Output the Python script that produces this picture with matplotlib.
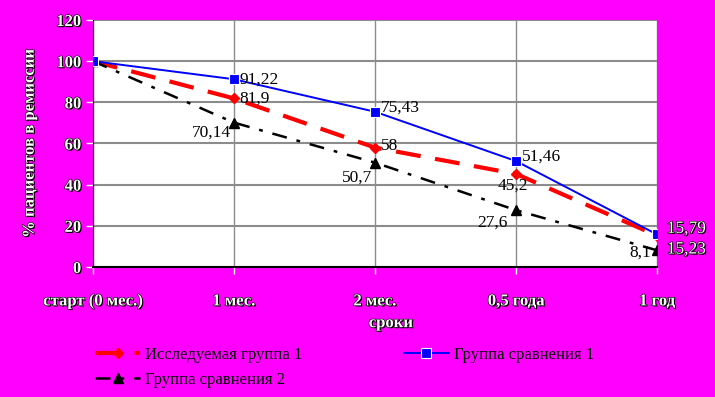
import matplotlib.pyplot as plt
import matplotlib.patheffects as pe

# Данные графика
periods = ["старт (0 мес.)", "1 мес.", "2 мес.", "0,5 года", "1 год"]
group1 = [100, 81.9, 58, 45.2, 15.23]      # Исследуемая группа 1
compare1 = [100, 91.22, 75.43, 51.46, 15.79]  # Группа сравнения 1
compare2 = [100, 70.14, 50.7, 27.6, 8.1]      # Группа сравнения 2

g1_labels = ["", "81,9", "58", "45,2", "15,23"]
c1_labels = ["", "91,22", "75,43", "51,46", "15,79"]
c2_labels = ["", "70,14", "50,7", "27,6", "8,1"]

plt.rcParams["font.family"] = ["Liberation Serif", "DejaVu Serif"]
magenta = "#ff00ff"
outline = [pe.SimplePatchShadow(offset=(0.8, -0.8), shadow_rgbFace="black", alpha=1),
           pe.withStroke(linewidth=0.9, foreground="black")]

fig = plt.figure(figsize=(7.15, 3.97), dpi=100, facecolor=magenta)
ax = fig.add_axes([0.130, 0.3275, 0.789, 0.6221])
ax.set_facecolor("white")

x = range(len(periods))

ax.plot(x, group1, color="red", lw=3, dashes=(6, 3.5), marker="D", ms=5.5,
        mfc="red", mec="red", label="Исследуемая группа 1", zorder=4)
ax.plot(x, compare2, color="black", lw=1.8, dashes=(6, 4, 1.5, 4), marker="^",
        ms=7, mfc="black", mec="black", label="Группа сравнения 2", zorder=4)
ax.plot(x, compare1, color="blue", lw=1.4, marker="s", ms=7,
        mfc="blue", mec="white", mew=0.8, label="Группа сравнения 1", zorder=5)

ax.set_xlim(0, 4)
ax.set_ylim(0, 120)
ax.set_yticks(range(0, 121, 20))
ax.set_xticks(list(x))
ax.set_xticklabels(periods)

ax.grid(axis="y", color="#8c8c8c", lw=1.5)
ax.grid(axis="x", color="#8c8c8c", lw=1)
ax.set_axisbelow(True)
for s in ["top", "right"]:
    ax.spines[s].set_visible(False)
ax.spines["bottom"].set_color("black")
ax.spines["bottom"].set_linewidth(1.5)
ax.spines["left"].set_color("black")

ax.tick_params(axis="both", colors="white", length=5, width=1)
ax.tick_params(axis="x", pad=14)
for lab in ax.get_xticklabels() + ax.get_yticklabels():
    lab.set_color("white")
    lab.set_fontweight("bold")
    lab.set_fontsize(12)
    lab.set_path_effects(outline)

ax.set_ylabel("% пациентов в ремиссии", color="white", fontweight="bold",
              fontsize=12, path_effects=outline)
ax.yaxis.set_label_coords(-0.098, 0.5)
ax.set_xlabel("сроки", color="white", fontweight="bold", fontsize=12,
              path_effects=outline)
ax.xaxis.set_label_coords(0.528, -0.195)

# Подписи значений
kw = dict(fontsize=12.5, color="black", zorder=6)
ax.annotate(c1_labels[1], (1, compare1[1]), xytext=(4, 0), textcoords="offset points",
            ha="left", va="center", **kw)
ax.annotate(c1_labels[2], (2, compare1[2]), xytext=(4, 3), textcoords="offset points",
            ha="left", va="center", **kw)
ax.annotate(c1_labels[3], (3, compare1[3]), xytext=(4, 3), textcoords="offset points",
            ha="left", va="center", **kw)
ax.annotate(g1_labels[1], (1, group1[1]), xytext=(4, 0), textcoords="offset points",
            ha="left", va="center", **kw)
ax.annotate(g1_labels[2], (2, group1[2]), xytext=(4, 1), textcoords="offset points",
            ha="left", va="center", **kw)
ax.annotate(g1_labels[3], (3, group1[3]), xytext=(-2, -3), textcoords="offset points",
            ha="center", va="top", **kw)
ax.annotate(c2_labels[1], (1, compare2[1]), xytext=(-2, -7), textcoords="offset points",
            ha="right", va="center", **kw)
ax.annotate(c2_labels[2], (2, compare2[2]), xytext=(-2, -11), textcoords="offset points",
            ha="right", va="center", **kw)
ax.annotate(c2_labels[3], (3, compare2[3]), xytext=(-6, -9), textcoords="offset points",
            ha="right", va="center", **kw)
ax.annotate(c2_labels[4], (4, compare2[4]), xytext=(-4, -2), textcoords="offset points",
            ha="right", va="center", **kw)
ax.annotate(c1_labels[4], (4, compare1[4]), xytext=(7, 4), textcoords="offset points",
            ha="left", va="center", color="white", fontsize=12.5,
            path_effects=outline, annotation_clip=False, zorder=6)
ax.annotate(g1_labels[4], (4, group1[4]), xytext=(7, -10), textcoords="offset points",
            ha="left", va="center", color="white", fontsize=12.5,
            path_effects=outline, annotation_clip=False, zorder=6)

fig.legend(loc="lower left", bbox_to_anchor=(0.112, -0.015), ncol=2, frameon=False,
           fontsize=12, handlelength=2.7, columnspacing=6.1, labelspacing=0.55,
           handletextpad=0.3, labelcolor="black")

fig.savefig("out.png", dpi=100, facecolor=magenta)
